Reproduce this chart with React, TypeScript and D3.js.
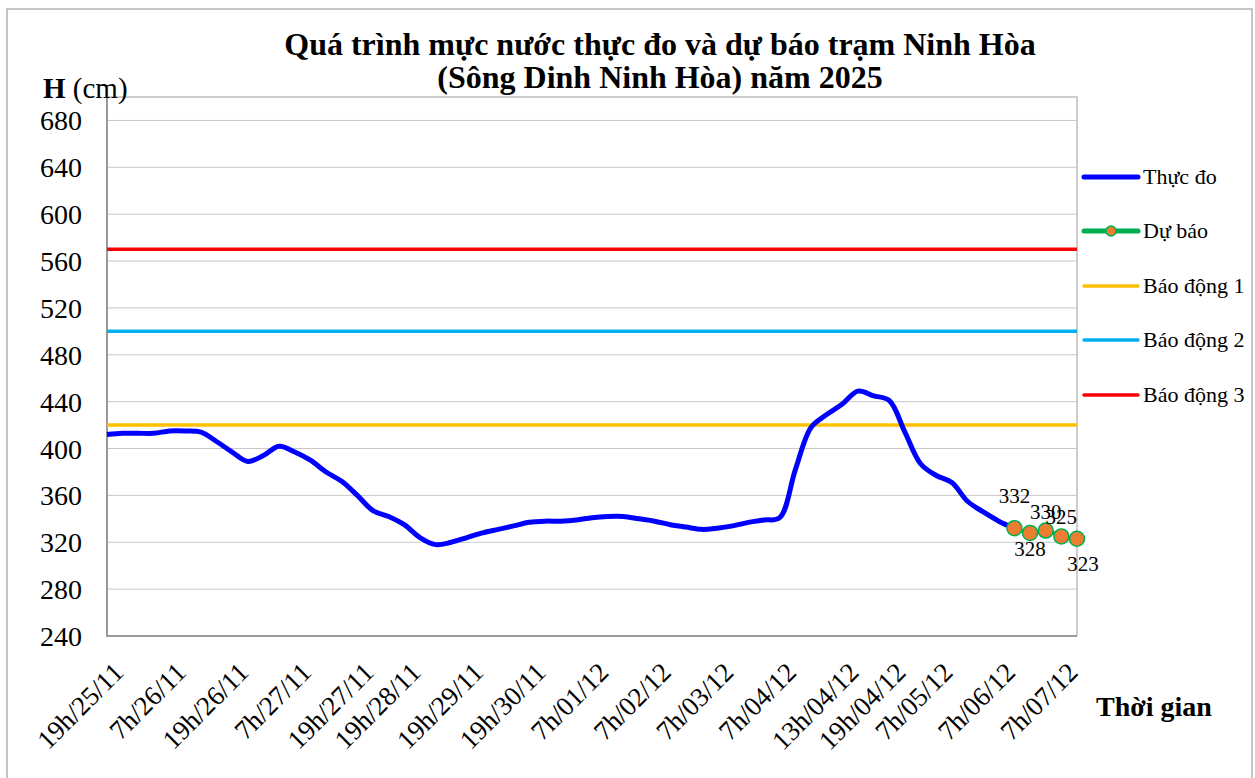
import React, { useRef, useEffect } from "react";
import * as d3 from "d3";

// số liệu
const categoryCount = 63;
const xTickIndex = [0, 4, 8, 12, 16, 19, 23, 27, 31, 35, 39, 43, 47, 50, 53, 57, 61];
const xTickLabels = [
  "19h/25/11", "7h/26/11", "19h/26/11", "7h/27/11", "19h/27/11", "19h/28/11",
  "19h/29/11", "19h/30/11", "7h/01/12", "7h/02/12", "7h/03/12", "7h/04/12",
  "13h/04/12", "19h/04/12", "7h/05/12", "7h/06/12", "7h/07/12",
];
const yTicks = [240, 280, 320, 360, 400, 440, 480, 520, 560, 600, 640, 680];

const thucDo = [
  412, 413, 413, 413, 415, 415, 414, 406, 397, 389,
  394, 402, 397, 390, 380, 372, 360, 347, 342, 335,
  324, 318, 320, 324, 328, 331, 334, 337, 338, 338,
  339, 341, 342, 342, 340, 338, 335, 333, 331, 332,
  334, 337, 339, 341, 382, 418, 429, 438, 449, 445,
  441, 414, 387, 377, 371, 355, 346, 338, 332,
];
const duBaoStart = 58;
const duBao = [332, 328, 330, 325, 323];

const baoDong1 = 420;
const baoDong2 = 500;
const baoDong3 = 570;

const legendNames = ["Thực đo", "Dự báo", "Báo động 1", "Báo động 2", "Báo động 3"];

const FONT = "'Liberation Serif', 'Times New Roman', serif";

const App = () => {
  const svgRef = useRef(null);

  useEffect(() => {
    const svg = d3.select(svgRef.current);
    svg.selectAll("*").remove();

    const left = 107;
    const right = 1077;
    const top = 97;
    const bottom = 636;

    const x = d3
      .scalePoint()
      .domain(d3.range(categoryCount).map(String))
      .range([left, right]);
    const y = d3.scaleLinear().domain([240, 700]).range([bottom, top]);

    // khung ngoài
    svg
      .append("rect")
      .attr("x", 7)
      .attr("y", 9)
      .attr("width", 1245)
      .attr("height", 790)
      .attr("fill", "white")
      .attr("stroke", "#b3b3b3")
      .attr("stroke-width", 1.5);

    // lưới ngang
    svg
      .append("g")
      .selectAll("line")
      .data(yTicks)
      .join("line")
      .attr("x1", left)
      .attr("x2", right)
      .attr("y1", (d) => y(d))
      .attr("y2", (d) => y(d))
      .attr("stroke", "#c8c8c8")
      .attr("stroke-width", 1);

    // khung vùng vẽ
    svg
      .append("path")
      .attr("d", `M${left},${top}H${right}V${bottom}`)
      .attr("fill", "none")
      .attr("stroke", "#bdbdbd")
      .attr("stroke-width", 1.5);
    svg
      .append("path")
      .attr("d", `M${left},${top}V${bottom}H${right}`)
      .attr("fill", "none")
      .attr("stroke", "#9a9a9a")
      .attr("stroke-width", 2);

    // nhãn trục y
    svg
      .append("g")
      .selectAll("text")
      .data(yTicks)
      .join("text")
      .attr("x", 82)
      .attr("y", (d) => y(d) + 10)
      .attr("text-anchor", "end")
      .style("font-family", FONT)
      .style("font-size", "28px")
      .text((d) => d);

    // nhãn trục x
    svg
      .append("g")
      .selectAll("text")
      .data(xTickIndex)
      .join("text")
      .attr("transform", (d) => `translate(${x(String(d)) + 18},${bottom + 38}) rotate(-45)`)
      .attr("text-anchor", "end")
      .style("font-family", FONT)
      .style("font-size", "27px")
      .text((d, i) => xTickLabels[i]);

    // các đường báo động
    const alerts = [
      { v: baoDong1, color: "#FFC000" },
      { v: baoDong2, color: "#00B0F0" },
      { v: baoDong3, color: "#FF0000" },
    ];
    svg
      .append("g")
      .selectAll("line")
      .data(alerts)
      .join("line")
      .attr("x1", left)
      .attr("x2", right)
      .attr("y1", (d) => y(d.v))
      .attr("y2", (d) => y(d.v))
      .attr("stroke", (d) => d.color)
      .attr("stroke-width", 3.5);

    // đường thực đo
    const line = d3
      .line()
      .x((d) => x(String(d[0])))
      .y((d) => y(d[1]))
      .curve(d3.curveCatmullRom.alpha(0.5));

    svg
      .append("path")
      .datum(thucDo.map((v, i) => [i, v]))
      .attr("fill", "none")
      .attr("stroke", "#0000FF")
      .attr("stroke-width", 5)
      .attr("stroke-linejoin", "round")
      .attr("d", line);

    // dự báo
    const fc = duBao.map((v, i) => [duBaoStart + i, v]);
    svg
      .append("path")
      .datum(fc)
      .attr("fill", "none")
      .attr("stroke", "#00B050")
      .attr("stroke-width", 4)
      .attr("d", line);

    svg
      .append("g")
      .selectAll("circle")
      .data(fc)
      .join("circle")
      .attr("cx", (d) => x(String(d[0])))
      .attr("cy", (d) => y(d[1]))
      .attr("r", 7.5)
      .attr("fill", "#ED7D31")
      .attr("stroke", "#00B050")
      .attr("stroke-width", 1.5);

    const labelDy = [-25, 23, -12, -12, 32];
    const labelDx = [0, 0, 0, 0, 6];
    svg
      .append("g")
      .selectAll("text")
      .data(fc)
      .join("text")
      .attr("x", (d, i) => x(String(d[0])) + labelDx[i])
      .attr("y", (d, i) => y(d[1]) + labelDy[i])
      .attr("text-anchor", "middle")
      .style("font-family", FONT)
      .style("font-size", "21px")
      .text((d) => d[1]);

    // tiêu đề
    svg
      .append("text")
      .attr("x", 660)
      .attr("y", 55)
      .attr("text-anchor", "middle")
      .style("font-family", FONT)
      .style("font-size", "32px")
      .style("font-weight", "bold")
      .text("Quá trình mực nước thực đo và dự báo trạm Ninh Hòa");
    svg
      .append("text")
      .attr("x", 660)
      .attr("y", 88)
      .attr("text-anchor", "middle")
      .style("font-family", FONT)
      .style("font-size", "32px")
      .style("font-weight", "bold")
      .text("(Sông Dinh Ninh Hòa) năm 2025");

    // tên trục
    const yTitle = svg
      .append("text")
      .attr("x", 43)
      .attr("y", 98)
      .style("font-family", FONT)
      .style("font-size", "29px");
    yTitle.append("tspan").style("font-weight", "bold").text("H");
    yTitle.append("tspan").text(" (cm)");

    svg
      .append("text")
      .attr("x", 1096)
      .attr("y", 716)
      .style("font-family", FONT)
      .style("font-size", "28px")
      .style("font-weight", "bold")
      .text("Thời gian");

    // chú giải
    const legendY = [177, 231, 286, 340, 395];
    const legendColor = ["#0000FF", "#00B050", "#FFC000", "#00B0F0", "#FF0000"];
    const legendWidth = [5, 5, 3.5, 3.5, 3.5];
    const legend = svg.append("g");
    legendNames.forEach((name, i) => {
      legend
        .append("line")
        .attr("x1", 1084)
        .attr("x2", 1138)
        .attr("y1", legendY[i])
        .attr("y2", legendY[i])
        .attr("stroke", legendColor[i])
        .attr("stroke-width", legendWidth[i])
        .attr("stroke-linecap", "round");
      if (i === 1) {
        legend
          .append("circle")
          .attr("cx", 1111)
          .attr("cy", legendY[i])
          .attr("r", 5)
          .attr("fill", "#ED7D31")
          .attr("stroke", "#00B050")
          .attr("stroke-width", 1.5);
      }
      legend
        .append("text")
        .attr("x", 1143)
        .attr("y", legendY[i] + 7)
        .style("font-family", FONT)
        .style("font-size", "22px")
        .text(name);
    });
  }, []);

  return (
    <svg
      ref={svgRef}
      width={1255}
      height={778}
      style={{ position: "absolute", left: 0, top: 0 }}
    ></svg>
  );
};

export default App;
